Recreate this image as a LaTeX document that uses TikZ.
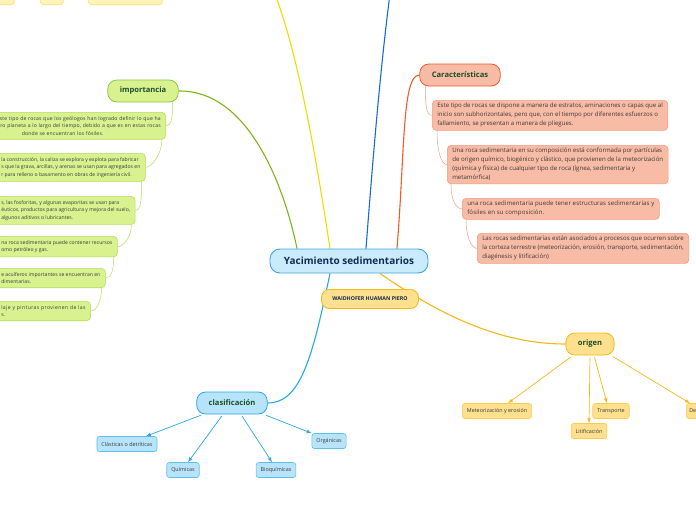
\documentclass[tikz,border=0pt]{standalone}
\usepackage{fontspec}
\setmainfont{Open Sans}
\newfontfamily\wideA[LetterSpace=3]{Open Sans}
\newfontfamily\wideB[LetterSpace=8]{Open Sans}
\newfontfamily\wideC[LetterSpace=2]{Open Sans}
\usetikzlibrary{positioning}
\usetikzlibrary{shapes}
\usetikzlibrary{arrows}
\usetikzlibrary{backgrounds}

\definecolor{cenfill}{HTML}{C9EBFB}
\definecolor{cenline}{HTML}{3DA5DE}
\definecolor{centext}{HTML}{0F2D52}
\definecolor{topictext}{HTML}{1E4D2B}
\definecolor{itemtext}{HTML}{3A3A3A}
\definecolor{redfill}{HTML}{F8BBA5}
\definecolor{redline}{HTML}{F05A28}
\definecolor{reditem}{HTML}{F39C82}
\definecolor{greenfill}{HTML}{D8F290}
\definecolor{greenline}{HTML}{8CC63F}
\definecolor{greenitem}{HTML}{B5DE5C}
\definecolor{greenlink}{HTML}{7CB518}
\definecolor{goldfill}{HTML}{FFE08E}
\definecolor{goldline}{HTML}{F6B817}
\definecolor{golditem}{HTML}{FCCB52}
\definecolor{bluefill}{HTML}{B7E4FA}
\definecolor{blueline}{HTML}{29A7E1}
\definecolor{blueitem}{HTML}{5CC0EC}
\definecolor{deepblue}{HTML}{1569E0}
\definecolor{lemon}{HTML}{F0DC00}
\definecolor{palefill}{HTML}{FFF3B5}
\definecolor{paleline}{HTML}{F5E07A}

\tikzset{
  center_topic/.style={draw=cenline, fill=cenfill, line width=0.9pt, rounded corners=10pt,
    minimum width=158pt, minimum height=24pt, text=centext, font=\fontsize{10}{12}\selectfont\bfseries},
  main_topic/.style={line width=0.8pt, rounded corners=9pt, inner xsep=12pt, minimum height=22pt,
    text=topictext, font=\fontsize{7.6}{9}\selectfont\bfseries},
  name_box/.style={draw=goldline, fill=goldfill, line width=0.8pt, rounded corners=8pt,
    inner xsep=11pt, minimum height=19pt, text=centext, font=\fontsize{5.3}{6}\selectfont\bfseries},
  char_item/.style={draw=reditem, fill=redfill, line width=0.6pt, rounded corners=4pt,
    align=left, inner xsep=5pt, inner ysep=3pt, text=itemtext, font=\fontsize{6.1}{9}\selectfont},
  imp_item/.style={draw=greenitem, fill=greenfill, line width=0.6pt, rounded corners=4pt,
    align=left, inner xsep=5pt, inner ysep=4pt, text=itemtext, font=\fontsize{5.1}{7.5}\selectfont},
  leaf_gold/.style={draw=golditem, fill=goldfill, line width=0.6pt, rounded corners=2.5pt,
    inner xsep=4.5pt, minimum height=15pt, text=itemtext, font=\fontsize{5.4}{6}\selectfont},
  leaf_blue/.style={draw=blueitem, fill=bluefill, line width=0.6pt, rounded corners=2.5pt,
    inner xsep=4.5pt, minimum height=15pt, text=itemtext, font=\fontsize{5.4}{6}\selectfont},
  top_box/.style={draw=paleline, fill=palefill, line width=0.6pt, rounded corners=3pt, minimum height=20pt},
  arrow_gold/.style={-latex, shorten <=2, line width=0.7pt, color=goldline},
  arrow_blue/.style={-latex, shorten <=2, line width=0.7pt, color=blueline},
  char_link/.style={-, line width=0.5pt, color=reditem},
  imp_link/.style={-, line width=0.5pt, color=greenitem}
}

\begin{document}
\begin{tikzpicture}[x=1pt, y=-1pt]
\useasboundingbox (0,0) rectangle (696,520);
\clip (0,0) rectangle (696,520);

%% main topics
\node[center_topic] at (349,261) (cen) {Yacimiento sedimentarios};
\node[name_box] at (370,299) (waid) {WAIDHOFER HUAMAN PIERO};
\node[main_topic, draw=redline, fill=redfill] at (460,75) (carac) {Características};
\node[main_topic, draw=greenline, fill=greenfill] at (143,91) (imp) {importancia};
\node[main_topic, draw=goldline, fill=goldfill] at (590,344) (orig) {origen};
\node[main_topic, draw=blueline, fill=bluefill] at (232,403) (clas) {clasificación};

%% cut boxes at the top
\node[top_box, minimum width=24pt, anchor=south west] at (-10,5) (topA) {};
\node[top_box, minimum width=23pt, anchor=south west] at (40,5) (topB) {};
\node[top_box, minimum width=74pt, anchor=south west] at (88,5) (topC) {};
\coordinate (endY) at (275,-6);
\coordinate (endB) at (390,-6);

%% caracteristicas
\node[char_item, anchor=north west] at (432,100) (c1) {Este tipo de rocas se dispone a manera de estratos, aminaciones o capas que al\\inicio son subhorizontales, pero que, con el tiempo por diferentes esfuerzos o\\fallamiento, se presentan a manera de pliegues.};
\node[char_item, anchor=north west] at (447,145) (c2) {Una roca sedimentaria en su composición está conformada por partículas\\de origen químico, biogénico y clástico, que provienen de la meteorización\\(química y física) de cualquier tipo de roca (ígnea, sedimentaria y\\metamórfica)};
\node[char_item, anchor=north west, font=\wideC\fontsize{6.1}{9}\selectfont] at (462,198) (c3) {una roca sedimentaria puede tener estructuras sedimentarias y\\fósiles en su composición.};
\node[char_item, anchor=north west] at (477,233) (c4) {Las rocas sedimentarias están asociados a procesos que ocurren sobre\\la corteza terrestre (meteorización, erosión, transporte, sedimentación,\\diagénesis y litificación)};

%% importancia
\node[imp_item, anchor=north east, text width=196pt, align=right, font=\wideA\fontsize{5.1}{7.5}\selectfont] at (166,112) (i1) {este tipo de rocas que los geólogos han logrado definir lo que ha\\tro planeta a lo largo del tiempo, debido a que es en estas rocas\\\makebox[\linewidth][c]{donde se encuentran los fósiles.}};
\node[imp_item, anchor=north west] at (-4,153) (i2) {la construcción, la caliza se explora y explota para fabricar\\s que la grava, arcillas, y arenas se usan para agregados en\\r para relleno o basamento en obras de ingeniería civil.};
\node[imp_item, anchor=north west] at (-4,196) (i3) {s, las fosforitas, y algunas evaporitas se usan para\\éuticos, productos para agricultura y mejora del suelo,\\algunos aditivos o lubricantes.};
\node[imp_item, anchor=north west] at (-4,236) (i4) {na roca sedimentaria puede contener recursos\\omo petróleo y gas.};
\node[imp_item, anchor=north west] at (-4,268) (i5) {e acuíferos importantes se encuentran en\\dimentarias.};
\node[imp_item, anchor=north west, font=\wideB\fontsize{5.1}{7.5}\selectfont] at (-4,301) (i6) {laje y pinturas provienen de las\\s.};

%% origen
\node[leaf_gold] at (497,411) (o1) {Meteorización y erosión};
\node[leaf_gold] at (611,411) (o2) {Transporte};
\node[leaf_gold] at (589,431) (o3) {Litificación};
\node[leaf_gold, anchor=west, inner xsep=3pt, text width=32pt, align=left] at (686,411) (o4) {De};

%% clasificacion
\node[leaf_blue] at (127,444) (k1) {Clásticas o detríticas};
\node[leaf_blue] at (183,470) (k2) {Químicas};
\node[leaf_blue] at (276,470) (k3) {Bioquímicas};
\node[leaf_blue] at (329,441) (k4) {Orgánicas};

%% branches
\begin{scope}[on background layer]
\draw[line width=1.1pt, greenlink] (imp.east) .. controls (250,90) and (285,190) .. ([xshift=-52]cen.north);
\draw[line width=1.1pt, lemon] ([xshift=-19]cen.north) .. controls (318,170) and (300,60) .. (endY);
\draw[line width=1.1pt, deepblue] ([xshift=17]cen.north) .. controls (372,170) and (380,70) .. (endB);
\draw[line width=1.1pt, redline] ([xshift=48]cen.north) .. controls (405,150) and (402,75) .. (carac.west);
\draw[line width=1.1pt, blueline] ([xshift=-19]cen.south) .. controls (312,360) and (300,403) .. (clas.east);
\draw[line width=1.1pt, goldline] ([xshift=31]cen.south) .. controls (440,315) and (500,344) .. (orig.west);

\draw[char_link] ([xshift=6]carac.south west) .. controls +(0,18) and +(-6,0) .. (c1.west);
\draw[char_link] ([xshift=5]c1.south west) .. controls +(0,20) and +(-6,0) .. (c2.west);
\draw[char_link] ([xshift=4]c2.south west) .. controls +(0,16) and +(-6,0) .. (c3.west);
\draw[char_link] ([xshift=4]c3.south west) .. controls +(0,16) and +(-6,0) .. (c4.west);

\draw[imp_link] ([xshift=-6]imp.south east) .. controls +(0,14) and +(6,0) .. (i1.east);
\draw[imp_link] ([xshift=-4]i1.south east) .. controls +(0,14) and +(6,0) .. (i2.east);
\draw[imp_link] ([xshift=-4]i2.south east) .. controls +(0,14) and +(6,0) .. (i3.east);
\draw[imp_link] ([xshift=-4]i3.south east) .. controls +(0,12) and +(6,0) .. (i4.east);
\draw[imp_link] ([xshift=-4]i4.south east) .. controls +(0,12) and +(6,0) .. (i5.east);
\draw[imp_link] ([xshift=-4]i5.south east) .. controls +(0,12) and +(6,0) .. (i6.east);
\end{scope}

%% leaves
\draw[arrow_gold] ([xshift=-17]orig.south) -- ([xshift=11]o1.north);
\draw[arrow_gold] (orig.south) -- (o3.north);
\draw[arrow_gold] ([xshift=4]orig.south) -- ([xshift=-4]o2.north);
\draw[arrow_gold] ([xshift=21]orig.south) -- ([xshift=4]o4.north west);

\draw[arrow_blue] ([xshift=-29]clas.south) -- ([xshift=19]k1.north);
\draw[arrow_blue] ([xshift=-9]clas.south) -- ([xshift=5]k2.north);
\draw[arrow_blue] ([xshift=9]clas.south) -- ([xshift=-4]k3.north);
\draw[arrow_blue] ([xshift=32]clas.south) -- (k4.north west);

\end{tikzpicture}
\end{document}
